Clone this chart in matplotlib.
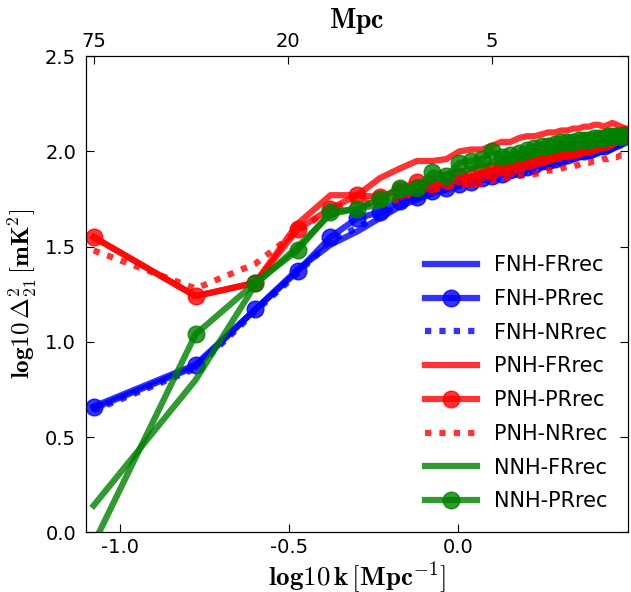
import numpy as np
import matplotlib
matplotlib.use("Agg")
import matplotlib.pyplot as plt

plt.rcParams['mathtext.fontset'] = 'cm'
plt.rcParams['font.family'] = ['DejaVu Sans']

# k-bin index (k = n * 2*pi/75 Mpc^-1)
n_bins = list(range(1, 38))

fnh_frrec = [0.65, 0.87, 1.17, 1.38, 1.51, 1.58, 1.65, 1.71, 1.75, 1.78, 1.80, 1.82, 1.84, 1.85, 1.86, 1.88, 1.89, 1.91, 1.92, 1.93, 1.94, 1.95, 1.96, 1.97, 1.97, 1.98, 1.99, 2.00, 2.01, 2.01, 2.02, 2.03, 2.04, 2.04, 2.05, 2.06, 2.07]
fnh_prrec = [0.66, 0.88, 1.17, 1.37, 1.55, 1.65, 1.68, 1.74, 1.76, 1.79, 1.81, 1.83, 1.84, 1.86, 1.87, 1.88, 1.90, 1.91, 1.92, 1.93, 1.95, 1.95, 1.96, 1.97, 1.98, 1.99, 2.00, 2.00, 2.01, 2.02, 2.03, 2.03, 2.04, 2.05, 2.06, 2.07, 2.08]
fnh_nrrec = [0.64, 0.86, 1.16, 1.36, 1.53, 1.60, 1.66, 1.72, 1.75, 1.78, 1.80, 1.82, 1.84, 1.85, 1.87, 1.88, 1.89, 1.90, 1.92, 1.93, 1.94, 1.95, 1.96, 1.97, 1.98, 1.98, 1.99, 2.00, 2.01, 2.02, 2.02, 2.03, 2.04, 2.05, 2.05, 2.06, 2.07]
pnh_frrec = [1.55, 1.24, 1.31, 1.62, 1.77, 1.77, 1.86, 1.91, 1.95, 1.95, 1.96, 2.00, 2.01, 2.01, 2.03, 2.05, 2.05, 2.07, 2.08, 2.08, 2.09, 2.10, 2.10, 2.11, 2.11, 2.12, 2.12, 2.13, 2.13, 2.14, 2.14, 2.13, 2.14, 2.15, 2.14, 2.13, 2.12]
pnh_prrec = [1.55, 1.24, 1.31, 1.59, 1.70, 1.77, 1.76, 1.80, 1.84, 1.83, 1.85, 1.87, 1.86, 1.89, 1.90, 1.92, 1.92, 1.94, 1.95, 1.96, 1.97, 1.98, 1.99, 2.00, 2.00, 2.01, 2.02, 2.03, 2.03, 2.04, 2.05, 2.05, 2.06, 2.07, 2.08, 2.08, 2.09]
pnh_nrrec = [1.48, 1.28, 1.41, 1.58, 1.70, 1.74, 1.72, 1.75, 1.79, 1.80, 1.81, 1.82, 1.83, 1.83, 1.85, 1.86, 1.86, 1.87, 1.88, 1.88, 1.89, 1.90, 1.90, 1.91, 1.92, 1.92, 1.93, 1.94, 1.94, 1.95, 1.95, 1.96, 1.96, 1.97, 1.97, 1.98, 1.98]
nnh_frrec = [0.14, 0.80, 1.30, 1.50, 1.67, 1.70, 1.72, 1.77, 1.80, 1.85, 1.87, 1.89, 1.91, 1.93, 1.94, 1.95, 1.96, 1.97, 1.98, 1.99, 2.00, 2.01, 2.02, 2.02, 2.03, 2.04, 2.04, 2.05, 2.05, 2.06, 2.06, 2.07, 2.07, 2.08, 2.08, 2.08, 2.09]
nnh_prrec = [-0.06, 1.04, 1.31, 1.48, 1.68, 1.70, 1.75, 1.81, 1.81, 1.89, 1.87, 1.94, 1.95, 1.96, 2.00, 1.97, 1.98, 1.99, 2.01, 2.02, 2.03, 2.03, 2.04, 2.05, 2.05, 2.05, 2.06, 2.06, 2.06, 2.07, 2.07, 2.07, 2.08, 2.08, 2.08, 2.08, 2.08]

top_scales = [75, 20, 5]
top_labels = ['75', '20', '5']

logk = np.log10(np.array(n_bins) * 2 * np.pi / 75.0)

fig = plt.figure(figsize=(6.31, 5.92), dpi=100)
ax = fig.add_axes([0.136, 0.101, 0.859, 0.804])

lw = 4.5
ms = 12
al = 0.8
dot = (0, (1, 1.3))

series = [
    (fnh_frrec, 'b', '-', None, 'FNH-FRrec'),
    (fnh_prrec, 'b', '-', 'o', 'FNH-PRrec'),
    (fnh_nrrec, 'b', dot, None, 'FNH-NRrec'),
    (pnh_frrec, 'r', '-', None, 'PNH-FRrec'),
    (pnh_prrec, 'r', '-', 'o', 'PNH-PRrec'),
    (pnh_nrrec, 'r', dot, None, 'PNH-NRrec'),
    (nnh_frrec, 'g', '-', None, 'NNH-FRrec'),
    (nnh_prrec, 'g', '-', 'o', 'NNH-PRrec'),
]
for vals, c, ls, mk, lab in series:
    ax.plot(logk, vals, color=c, linestyle=ls, marker=mk, lw=lw,
            ms=ms, mec=c, alpha=al, label=lab)

ax.set_xlim(-1.1, 0.5)
ax.set_ylim(0, 2.5)
ax.set_xticks([-1.0, -0.5, 0.0])
ax.set_xticklabels(['-1.0', '-0.5', '0.0'])
ax.set_yticks([0.0, 0.5, 1.0, 1.5, 2.0, 2.5])
ax.tick_params(direction='in', length=6, labelsize=14, top=False, right=True)
ax.tick_params(axis='x', pad=4)
ax.tick_params(axis='y', pad=7)
ax.set_xlabel(r'$\mathbf{log10\,k\,[Mpc^{-1}]}$', fontsize=19.5)
ax.xaxis.set_label_coords(0.5, -0.056)
ax.set_ylabel(r'$\mathbf{log10\,\Delta^2_{21}\,[mK^2]}$', fontsize=18, labelpad=4)

ax2 = ax.twiny()
ax2.set_xlim(ax.get_xlim())
ax2.set_xticks(np.log10(2 * np.pi / np.array(top_scales, dtype=float)))
ax2.set_xticklabels(top_labels)
ax2.tick_params(direction='in', length=6, labelsize=14, pad=4)
ax2.set_xlabel(r'$\mathbf{Mpc}$', fontsize=20, labelpad=3)

leg = ax.legend(loc='lower right', frameon=False, fontsize=15, numpoints=1,
                handlelength=2.5, handletextpad=0.8, labelspacing=0.66,
                borderaxespad=0.6)

fig.savefig('out.png', dpi=100)
